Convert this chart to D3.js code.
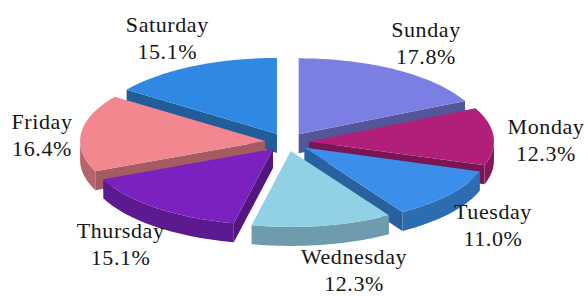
<!DOCTYPE html>
<html>
<head>
<meta charset="utf-8">
<script src="https://cdn.jsdelivr.net/npm/d3@7"></script>
<style>
  body { margin: 0; background: #fff; }
</style>
</head>
<body>
<div id="vis"></div>
<script>
// data (clockwise from 12 o'clock)
var days = ["Sunday", "Monday", "Tuesday", "Wednesday", "Thursday", "Friday", "Saturday"];
var shares = [17.8, 12.3, 11.0, 12.3, 15.1, 16.4, 15.1];
var colors = ["#7b7fe3", "#b0207a", "#3b8fea", "#92d0e6", "#7b21bf", "#f3878f", "#2f89e2"];

var width = 588, height = 296;

// pie geometry: tilted ellipse with thickness, slices pulled out
var cx = 287, cy = 142, rx = 185, ry = 76, depth = 19, explode = 22;
var tilt = ry / rx;

var svg = d3.select("#vis").append("svg")
    .attr("width", width)
    .attr("height", height);

var arcs = d3.pie().sort(null).value(function(d) { return d; })(shares);

arcs.forEach(function(d, i) {
  d.name = days[i];
  d.color = colors[i];
  d.mid = (d.startAngle + d.endAngle) / 2;
  d.ox = cx + explode * Math.sin(d.mid);
  d.oy = cy - explode * Math.cos(d.mid) * tilt;
});

function pt(d, a, dz) {
  return [d.ox + rx * Math.sin(a), d.oy - ry * Math.cos(a) + (dz || 0)];
}

function arcPoints(d, a0, a1, dz) {
  var n = Math.max(2, Math.ceil((a1 - a0) / 0.02)), pts = [];
  for (var j = 0; j <= n; j++) pts.push(pt(d, a0 + (a1 - a0) * j / n, dz));
  return pts;
}

function poly(pts) { return "M" + pts.map(function(p) { return p[0].toFixed(2) + "," + p[1].toFixed(2); }).join("L") + "Z"; }

// back slices first
var order = arcs.slice().sort(function(a, b) { return -Math.cos(a.mid) + Math.cos(b.mid); });

order.forEach(function(d) {
  var g = svg.append("g");
  var c = d3.color(d.color);
  var apex = [d.ox, d.oy], apexB = [d.ox, d.oy + depth];

  // radial walls facing the viewer
  if (Math.sin(d.startAngle) < 0) {
    var p = pt(d, d.startAngle), q = pt(d, d.startAngle, depth);
    g.append("path").attr("d", poly([apex, p, q, apexB])).attr("fill", c.darker(1.1));
  }
  if (Math.sin(d.endAngle) > 0) {
    var p2 = pt(d, d.endAngle), q2 = pt(d, d.endAngle, depth);
    g.append("path").attr("d", poly([apex, p2, q2, apexB])).attr("fill", c.darker(1.1));
  }

  // outer rim on the front half
  var b0 = Math.max(d.startAngle, Math.PI / 2), b1 = Math.min(d.endAngle, Math.PI * 1.5);
  if (b1 > b0) {
    var top = arcPoints(d, b0, b1, 0), bot = arcPoints(d, b0, b1, depth).reverse();
    g.append("path").attr("d", poly(top.concat(bot))).attr("fill", c.darker(0.8));
  }

  // top face
  g.append("path")
    .attr("d", poly([apex].concat(arcPoints(d, d.startAngle, d.endAngle, 0))))
    .attr("fill", d.color);
});

// labels around the pie
var lrx = 262, lry = 124, lcy = 147;
arcs.forEach(function(d) {
  var x = Math.max(42, Math.min(546, cx + lrx * Math.sin(d.mid)));
  var y = lcy - lry * Math.cos(d.mid);
  if (d.name === "Wednesday") x += 22;
  var t = svg.append("text")
    .attr("text-anchor", "middle")
    .attr("font-family", "'Liberation Serif', 'DejaVu Serif', 'Times New Roman', serif")
    .attr("font-size", 22)
    .attr("letter-spacing", 0.6)
    .attr("fill", "#161616");
  t.append("tspan").attr("x", x).attr("y", y - 5).text(d.name);
  t.append("tspan").attr("x", x).attr("y", y + 22).text(d.data.toFixed(1) + "%");
});
</script>
</body>
</html>
